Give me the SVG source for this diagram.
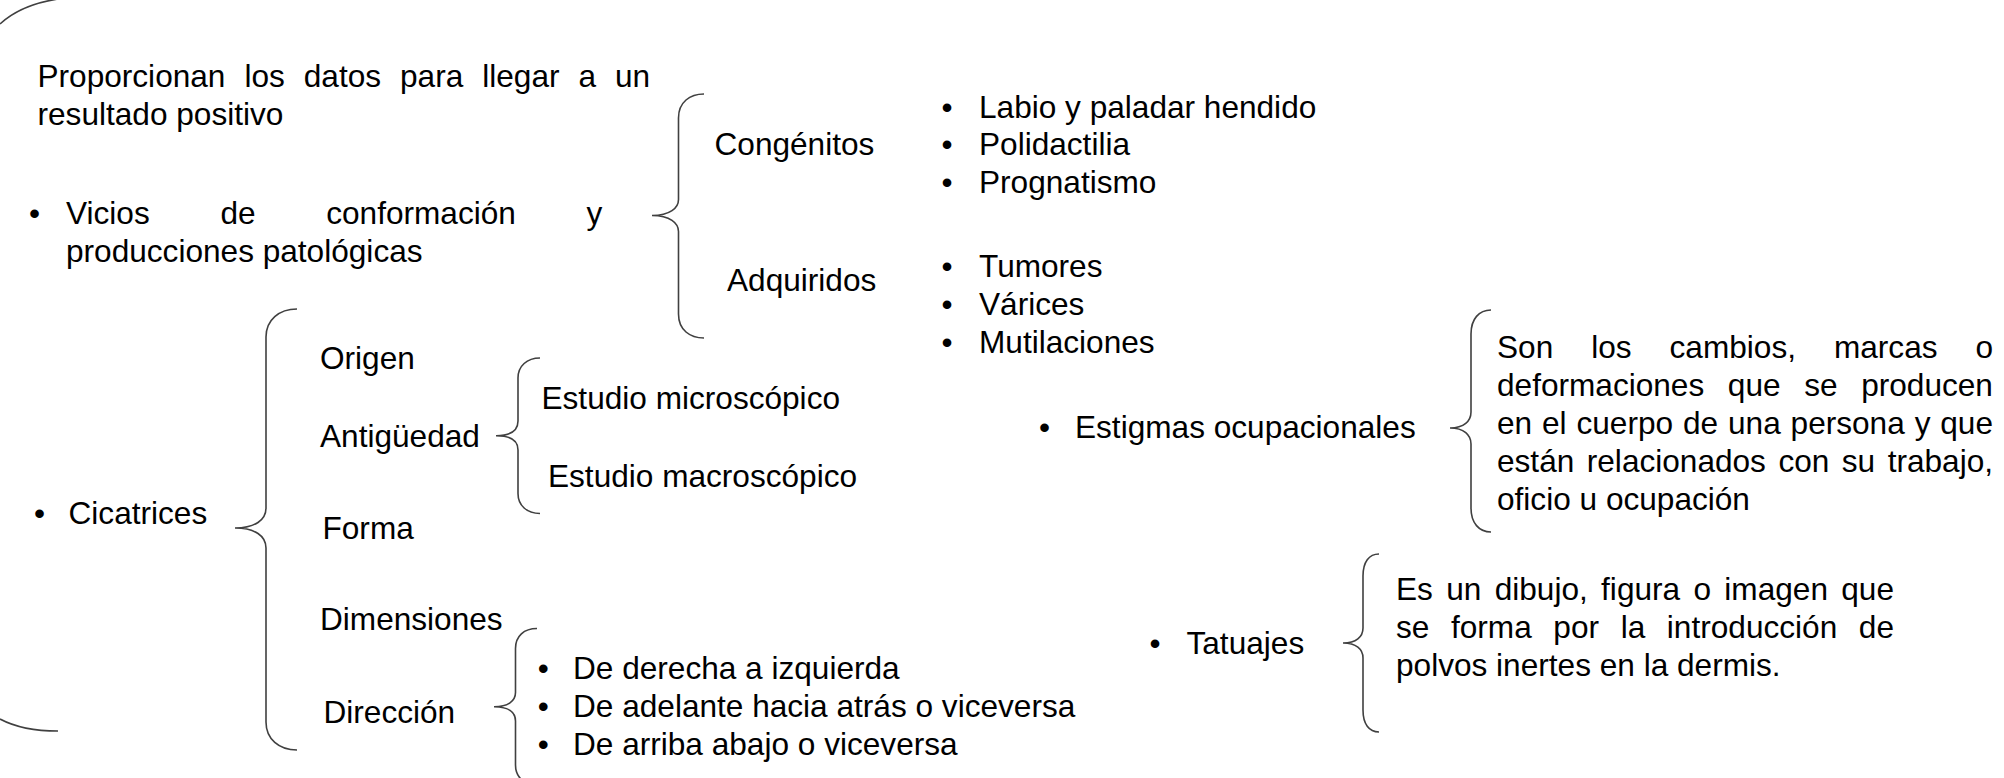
<svg xmlns="http://www.w3.org/2000/svg" width="2004" height="778" viewBox="0 0 2004 778">
<style>
text{font-family:"Liberation Sans",Arial,sans-serif;font-size:31.6px;fill:#000}
.br{fill:none;stroke:#404040;stroke-width:1.6}
</style>
<rect width="2004" height="778" fill="#fff"/>
<g id="frame">
<path class="br" d="M0 24 C14 11 32 3 58 -1"/>
<path class="br" d="M0 719 C15 727 32 731 58 731"/>
</g>
<g id="connectors">
<!-- Vicios brace: hx 704, lx 678.5, tip 652 at 215.5, top 94, bottom 338 -->
<path class="br" d="M704 94 C690 94 678.5 102 678.5 118 L678.5 199.5 C678.5 208 670 215.5 652 215.5 C670 215.5 678.5 223 678.5 231.5 L678.5 314 C678.5 330 690 338 704 338"/>
<!-- Cicatrices brace -->
<path class="br" d="M297 309 C279 309 266 320 266 337 L266 508 C266 520 255 528 235 528 C255 528 266 536 266 548 L266 722 C266 739 279 750 297 750"/>
<!-- Antigüedad brace -->
<path class="br" d="M540 358 C527 358 518 366 518 378 L518 421 C518 430 511 435.7 496 435.7 C511 435.7 518 441 518 450 L518 493.5 C518 505.5 527 513.5 540 513.5"/>
<!-- Dirección brace -->
<path class="br" d="M537 628.5 C524 628.5 515.5 636 515.5 648.5 L515.5 692.5 C515.5 701 508 706.7 494 706.7 C508 706.7 515.5 712 515.5 721 L515.5 765 C515.5 777 524 785 537 785"/>
<!-- Estigmas brace -->
<path class="br" d="M1491 310 C1479 310 1471 319 1471 334 L1471 412 C1471 421 1464 428 1450 428 C1464 428 1471 435 1471 444 L1471 508 C1471 523 1479 532 1491 532"/>
<!-- Tatuajes brace -->
<path class="br" d="M1379 554 C1369 554 1363 562 1363 576 L1363 628 C1363 637 1356 643 1343 643 C1356 643 1363 649 1363 658 L1363 710 C1363 724 1369 732 1379 732"/>
</g>
<g id="node-intro">
<text x="37.5" y="87" word-spacing="10.2">Proporcionan los datos para llegar a un</text>
<text x="37.5" y="125">resultado positivo</text>
</g>
<g id="node-vicios">
<text y="224"><tspan x="29">•</tspan><tspan x="66" word-spacing="61.9">Vicios de conformación y</tspan></text>
<text x="66" y="262">producciones patológicas</text>
</g>
<g id="node-congenitos">
<text x="714.5" y="155">Congénitos</text>
</g>
<g id="node-congenitos-list">
<text y="117.5"><tspan x="941.5">•</tspan><tspan x="979">Labio y paladar hendido</tspan></text>
<text y="155.3"><tspan x="941.5">•</tspan><tspan x="979">Polidactilia</tspan></text>
<text y="193"><tspan x="941.5">•</tspan><tspan x="979">Prognatismo</tspan></text>
</g>
<g id="node-adquiridos">
<text x="727" y="291">Adquiridos</text>
</g>
<g id="node-adquiridos-list">
<text y="277"><tspan x="941.5">•</tspan><tspan x="979">Tumores</tspan></text>
<text y="315"><tspan x="941.5">•</tspan><tspan x="979">Várices</tspan></text>
<text y="353"><tspan x="941.5">•</tspan><tspan x="979">Mutilaciones</tspan></text>
</g>
<g id="node-cicatrices">
<text y="524"><tspan x="34">•</tspan><tspan x="68.5">Cicatrices</tspan></text>
</g>
<g id="node-origen"><text x="320" y="369">Origen</text></g>
<g id="node-antiguedad"><text x="320" y="447">Antigüedad</text></g>
<g id="node-forma"><text x="322.5" y="539">Forma</text></g>
<g id="node-dimensiones"><text x="320" y="629.5">Dimensiones</text></g>
<g id="node-direccion"><text x="323.5" y="722.5">Dirección</text></g>
<g id="node-estudios">
<text x="541.5" y="408.5">Estudio microscópico</text>
<text x="548" y="487">Estudio macroscópico</text>
</g>
<g id="node-direccion-list">
<text y="679"><tspan x="537.8">•</tspan><tspan x="573">De derecha a izquierda</tspan></text>
<text y="717"><tspan x="537.8">•</tspan><tspan x="573">De adelante hacia atrás o viceversa</tspan></text>
<text y="755"><tspan x="537.8">•</tspan><tspan x="573">De arriba abajo o viceversa</tspan></text>
</g>
<g id="node-estigmas">
<text y="437.5"><tspan x="1039">•</tspan><tspan x="1075">Estigmas ocupacionales</tspan></text>
</g>
<g id="node-estigmas-def">
<text x="1497" y="357.5" word-spacing="29.2">Son los cambios, marcas o</text>
<text x="1497" y="395.5" word-spacing="14.85">deformaciones que se producen</text>
<text x="1497" y="433.5" word-spacing="1.1">en el cuerpo de una persona y que</text>
<text x="1497" y="471.5" word-spacing="3.7">están relacionados con su trabajo,</text>
<text x="1497" y="509.5">oficio u ocupación</text>
</g>
<g id="node-tatuajes">
<text y="654"><tspan x="1149.5">•</tspan><tspan x="1186.5">Tatuajes</tspan></text>
</g>
<g id="node-tatuajes-def">
<text x="1396" y="600" word-spacing="4.55">Es un dibujo, figura o imagen que</text>
<text x="1396" y="638" word-spacing="12.84">se forma por la introducción de</text>
<text x="1396" y="676">polvos inertes en la dermis.</text>
</g>
</svg>
